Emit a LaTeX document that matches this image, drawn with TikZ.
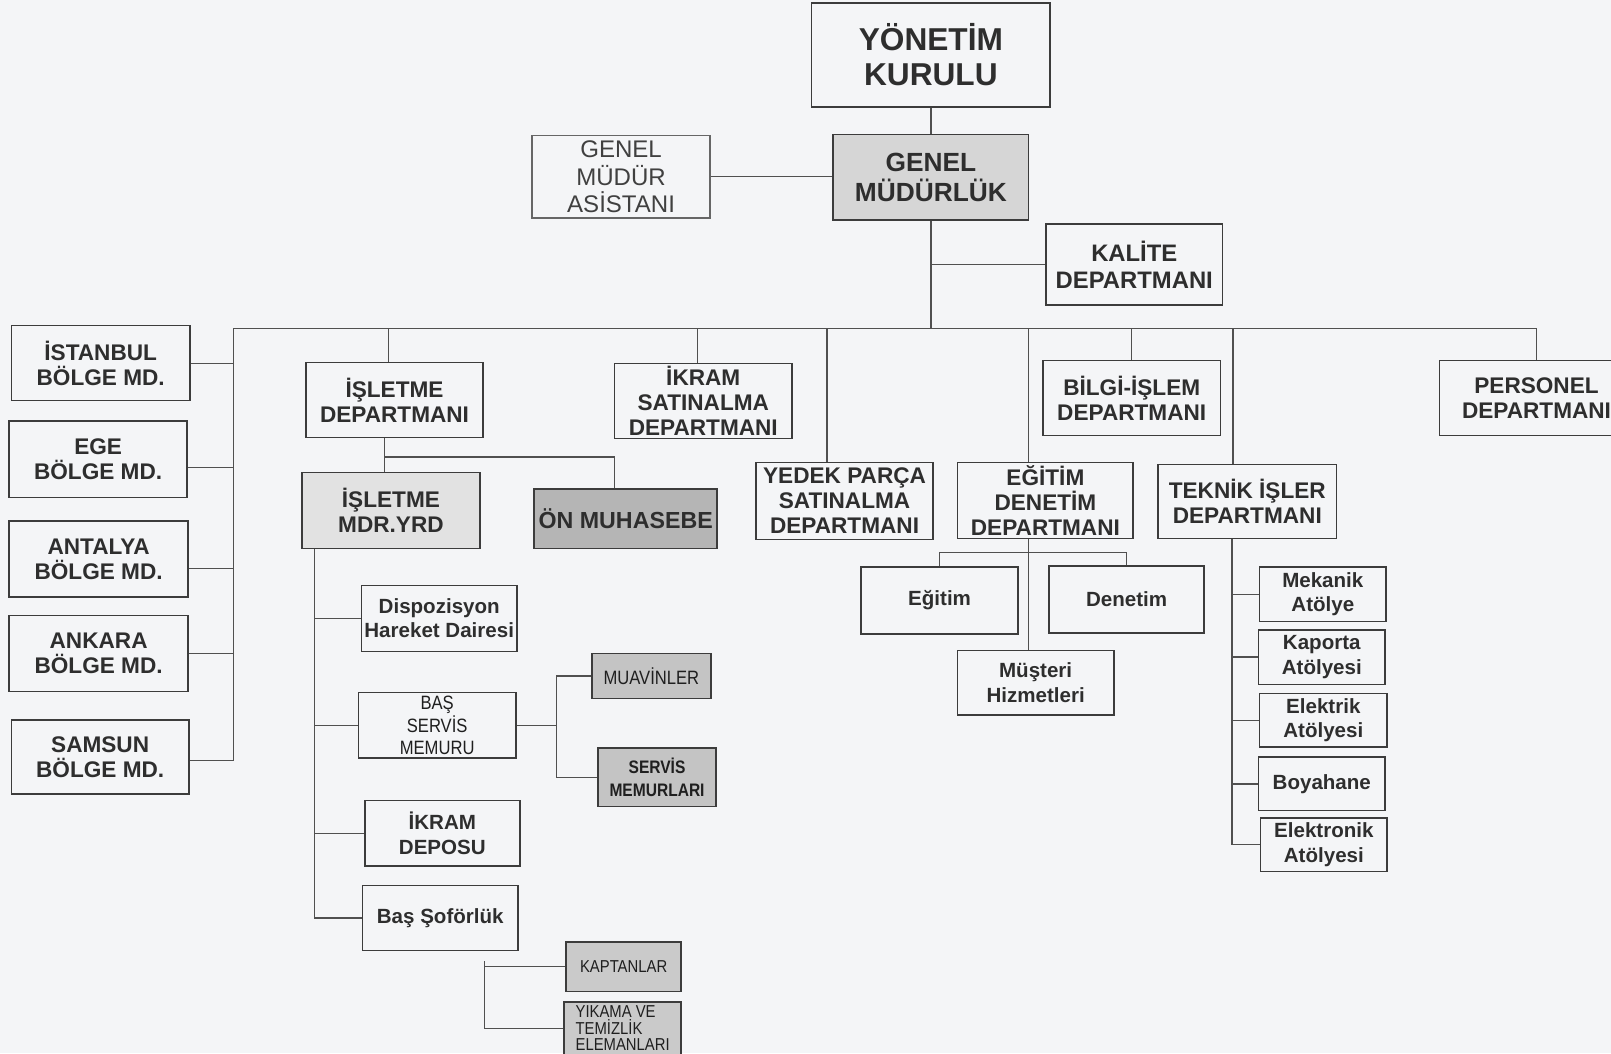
\documentclass[tikz,border=0pt]{standalone}
\usepackage{fontspec}
\setmainfont{Liberation Sans}
\newfontfamily\narrowfont[FakeStretch=0.86]{Liberation Sans}
\definecolor{bgc}{HTML}{F4F5F7}
\definecolor{txtc}{HTML}{2E2E2E}
\definecolor{boxc}{HTML}{3C3C3C}
\definecolor{linec}{HTML}{505050}
\definecolor{gmfill}{HTML}{D6D6D6}
\definecolor{yrdfill}{HTML}{E2E2E2}
\definecolor{onmfill}{HTML}{B5B5B5}
\definecolor{grfill}{HTML}{C4C4C4}
\definecolor{ltfill}{HTML}{CACACA}
\tikzset{
  box/.style={draw=boxc, line width=0.75pt, inner sep=0pt, align=center, text=txtc, fill=bgc},
  dept/.style={box, font=\bfseries\fontsize{11pt}{12.2pt}\selectfont},
  smallbox/.style={box, font=\bfseries\fontsize{10pt}{11.8pt}\selectfont},
  narrowbox/.style={box, text=black!88, font=\narrowfont\fontsize{9.4pt}{10.8pt}\selectfont},
  conn/.style={draw=linec, line width=0.65pt},
}
\newcommand{\obox}[7]{\node[#1, minimum width={(#4-#2)*0.5pt}, minimum height={(#5-#3)*0.5pt}] (#6) at ({(#2+#4)/2},{(#3+#5)/2}) {#7};}
\begin{document}
\begin{tikzpicture}[x=0.5pt,y=-0.5pt]
\fill[bgc] (0,0) rectangle (1568,1025);
\useasboundingbox (0,0) rectangle (1568,1025);
\clip (0,0) rectangle (1568,1025);
% top
\obox{box, font=\bfseries\fontsize{15.4pt}{17pt}\selectfont}{790}{3}{1022}{104}{yk}{YÖNETİM\\KURULU}
\obox{box, draw=gray!80!black, text=black!75, font=\fontsize{11.7pt}{13.3pt}\selectfont}{518}{132}{691}{212}{ast}{GENEL\\MÜDÜR\\ASİSTANI}
\obox{box, fill=gmfill, font=\bfseries\fontsize{12.8pt}{14.5pt}\selectfont}{811}{131}{1001}{214}{gm}{GENEL\\MÜDÜRLÜK}
\obox{box, font=\bfseries\fontsize{11.6pt}{13.4pt}\selectfont}{1018}{218}{1190}{297}{kal}{KALİTE\\DEPARTMANI}
% regions
\obox{dept}{11}{317}{185}{390}{ist}{İSTANBUL\\BÖLGE MD.}
\obox{dept}{9}{410}{182}{484}{ege}{EGE\\BÖLGE MD.}
\obox{dept}{9}{507}{183}{581}{ant}{ANTALYA\\BÖLGE MD.}
\obox{dept}{9}{599}{183}{673}{ank}{ANKARA\\BÖLGE MD.}
\obox{dept}{11}{701}{184}{773}{sam}{SAMSUN\\BÖLGE MD.}
% departments
\obox{dept}{298}{353}{470}{426}{isd}{İŞLETME\\DEPARTMANI}
\obox{dept}{598}{354}{771}{427}{iks}{İKRAM\\SATINALMA\\DEPARTMANI}
\obox{dept}{1015}{351}{1188}{424}{bil}{BİLGİ-İŞLEM\\DEPARTMANI}
\obox{dept}{1401}{351}{1590}{424}{per}{PERSONEL\\DEPARTMANI}
\obox{dept, fill=yrdfill}{294}{460}{467}{534}{yrd}{İŞLETME\\MDR.YRD}
\obox{box, fill=onmfill, font=\bfseries\fontsize{11.3pt}{13pt}\selectfont}{520}{476}{698}{534}{onm}{ÖN MUHASEBE}
\obox{dept}{736}{450}{908}{525}{yed}{YEDEK PARÇA\\SATINALMA\\DEPARTMANI}
\obox{dept}{932}{450}{1103}{524}{egd}{EĞİTİM\\DENETİM\\DEPARTMANI}
\obox{dept}{1127}{452}{1301}{524}{tek}{TEKNİK İŞLER\\DEPARTMANI}
% education
\obox{smallbox}{838}{552}{991}{617}{egt}{Eğitim}
\obox{smallbox}{1021}{551}{1172}{616}{den}{Denetim}
\obox{smallbox}{932}{633}{1084}{696}{mus}{Müşteri\\Hizmetleri}
% workshops
\obox{smallbox}{1226}{552}{1349}{605}{mek}{Mekanik\\Atölye}
\obox{smallbox}{1225}{613}{1348}{666}{kap}{Kaporta\\Atölyesi}
\obox{smallbox}{1226}{675}{1350}{727}{elk}{Elektrik\\Atölyesi}
\obox{smallbox}{1225}{737}{1348}{789}{boy}{Boyahane}
\obox{smallbox}{1227}{796}{1350}{848}{elo}{Elektronik\\Atölyesi}
% operations
\obox{smallbox}{352}{570}{503}{634}{dis}{Dispozisyon\\Hareket Dairesi}
\obox{narrowbox}{349}{674}{502}{738}{bsm}{BAŞ\\SERVİS\\MEMURU}
\obox{smallbox}{355}{779}{506}{843}{ikd}{İKRAM\\DEPOSU}
\obox{smallbox}{353}{862}{504}{925}{bso}{Baş Şoförlük}
\obox{narrowbox, fill=grfill}{576}{636}{692}{680}{mua}{MUAVİNLER}
\obox{narrowbox, fill=grfill, font=\narrowfont\bfseries\fontsize{8.8pt}{10.8pt}\selectfont}{582}{728}{697}{785}{srv}{SERVİS\\MEMURLARI}
\obox{narrowbox, fill=ltfill, font=\narrowfont\fontsize{8.4pt}{10pt}\selectfont}{551}{917}{663}{965}{kpt}{KAPTANLAR}
\obox{narrowbox, fill=ltfill, align=left, font=\narrowfont\fontsize{8.4pt}{8pt}\selectfont}{549}{975}{663}{1027}{yik}{YIKAMA VE\\TEMİZLİK\\ELEMANLARI}
% connectors top
\draw[conn] (yk.south) -- (gm.north);
\draw[conn] (ast.east) -- (ast.east -| gm.west);
\coordinate (bL) at (227,320);
\draw[conn] (gm.south) -- (gm.south |- bL);
\draw[conn] (kal.west) -- (kal.west -| gm.south);
\draw[conn] (bL) -| (per.north);
% regions bus
\draw[conn] (bL) |- ([yshift=-1.5pt]sam.east);
\draw[conn] (ist.east) -- (ist.east -| bL);
\coordinate (egeC) at ([yshift=-4pt]ege.east);
\draw[conn] (egeC) -- (egeC -| bL);
\coordinate (antC) at ([yshift=-4.5pt]ant.east);
\draw[conn] (antC) -- (antC -| bL);
\draw[conn] (ank.east) -- (ank.east -| bL);
% drops
\coordinate (d1) at ([xshift=-3pt]isd.north);
\draw[conn] (d1) -- (d1 |- bL);
\coordinate (d2) at ([xshift=-2.75pt]iks.north);
\draw[conn] (d2) -- (d2 |- bL);
\coordinate (d3) at ([xshift=-8.5pt]yed.north);
\draw[conn] (d3) -- (d3 |- bL);
\coordinate (d4) at ([xshift=-8.25pt]egd.north);
\draw[conn] (d4) -- (d4 |- bL);
\draw[conn] (bil.north) -- (bil.north |- bL);
\coordinate (d6) at ([xshift=-7pt]tek.north);
\draw[conn] (d6) -- (d6 |- bL);
% isletme
\coordinate (i0) at ([xshift=-5pt]isd.south);
\draw[conn] (i0) -- (i0 |- yrd.north);
\coordinate (i1) at ([xshift=-5pt,yshift=-9pt]isd.south);
\coordinate (i2) at ([xshift=-5.5pt]onm.north);
\draw[conn] (i1) -| (i2);
\coordinate (y0) at ([xshift=6.5pt]yrd.south west);
\draw[conn] (y0) |- (bso.west);
\foreach \n in {dis,bsm,ikd} \draw[conn] (\n.west) -- (\n.west -| y0);
\coordinate (s0) at ([xshift=19.5pt]bsm.east);
\draw[conn] (bsm.east) -- (s0);
\draw[conn] (mua.west) -| (s0) |- (srv.west);
\coordinate (f0) at ([xshift=-16.5pt,yshift=-5pt]bso.south east);
\draw[conn] (f0) |- (kpt.west);
\draw[conn] (f0) |- (yik.west);
% egitim
\coordinate (e0) at ([xshift=-8.25pt]egd.south);
\draw[conn] (e0) -- (e0 |- mus.north);
\coordinate (e1) at ([yshift=-6.5pt]egd.south);
\draw[conn] (egt.north) |- (e1) -| (den.north);
% teknik
\coordinate (t0) at ([xshift=-7.5pt]tek.south);
\draw[conn] (t0) |- (elo.west);
\foreach \n in {mek,kap,elk,boy} \draw[conn] (\n.west) -- (\n.west -| t0);
\end{tikzpicture}
\end{document}
